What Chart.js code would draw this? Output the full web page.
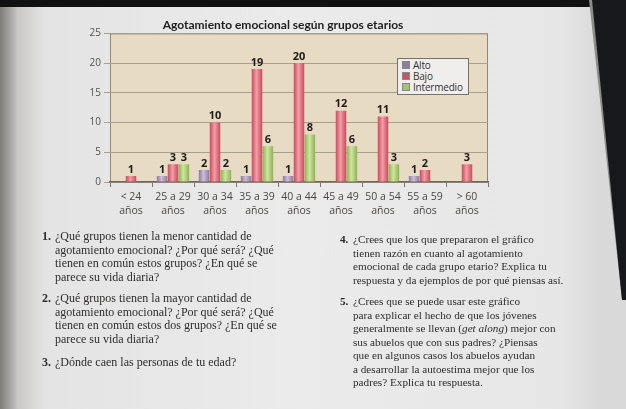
<!DOCTYPE html>
<html lang="es">
<head>
<meta charset="utf-8">
<script src="https://cdn.jsdelivr.net/npm/chart.js@4/dist/chart.umd.min.js"></script>
<style>
  html, body { margin: 0; padding: 0; }
  body {
    width: 626px; height: 409px; overflow: hidden; position: relative;
    background: linear-gradient(to right, #7d7b78 0px, #c9c8c6 18px, #e4e4e4 45px, #ebebec 300px, #e6e6e7 560px, #d9d9da 600px);
    font-family: "Liberation Serif", serif;
  }
  #topStrip { position: absolute; left: 0; top: 0; width: 626px; height: 7px; background: #111; }
  #edge { position: absolute; left: 0; top: 0; width: 626px; height: 409px; background: #16181b;
    clip-path: polygon(592px 0, 626px 0, 626px 300px, 622px 300px); }
  #fold { position: absolute; left: 0; top: 0; width: 626px; height: 409px; background: #8d8c89;
    clip-path: polygon(589px 0, 595px 0, 625px 290px, 622px 300px); }
  #chartBox { position: absolute; left: 0; top: 0; width: 520px; height: 232px; }
  #legend {
    position: absolute; left: 397px; top: 58px; width: 72px; padding: 1px 0 1px 4px;
    background: #efeeec; border: 1px solid #77736c; box-sizing: border-box;
    font: 10px "Open Sans", sans-serif; letter-spacing: -0.2px; color: #333; line-height: 11px;
  }
  #legend span.sw { display: inline-block; width: 6px; height: 6px; margin-right: 3px; border: 1px solid #888; vertical-align: 0; }
  .col { position: absolute; color: #2e2d2c; }
  .col p { margin: 0 0 8px 0; position: relative; padding-left: 13px; }
  .col b { position: absolute; left: 0; top: 0; }
  #colL { left: 42px; top: 230px; font-size: 12px; line-height: 13.5px; width: 270px; }
  #colR { left: 340px; top: 233px; font-size: 11.2px; line-height: 13.5px; width: 250px; }
</style>
</head>
<body>
<div id="topStrip"></div>
<div id="chartBox"><canvas id="mainChart"></canvas></div>
<div id="legend"></div>
<div id="fold"></div>
<div id="edge"></div>

<div class="col" id="colL">
  <p><b>1.</b>¿Qué grupos tienen la menor cantidad de<br>agotamiento emocional? ¿Por qué será? ¿Qué<br>tienen en común estos grupos? ¿En qué se<br>parece su vida diaria?</p>
  <p><b>2.</b>¿Qué grupos tienen la mayor cantidad de<br>agotamiento emocional? ¿Por qué será? ¿Qué<br>tienen en común estos dos grupos? ¿En qué se<br>parece su vida diaria?</p>
  <p style="margin-top:10px"><b>3.</b>¿Dónde caen las personas de tu edad?</p>
</div>
<div class="col" id="colR">
  <p><b>4.</b>¿Crees que los que prepararon el gráfico<br>tienen razón en cuanto al agotamiento<br>emocional de cada grupo etario? Explica tu<br>respuesta y da ejemplos de por qué piensas así.</p>
  <p><b>5.</b>¿Crees que se puede usar este gráfico<br>para explicar el hecho de que los jóvenes<br>generalmente se llevan (<i>get along</i>) mejor con<br>sus abuelos que con sus padres? ¿Piensas<br>que en algunos casos los abuelos ayudan<br>a desarrollar la autoestima mejor que los<br>padres? Explica tu respuesta.</p>
</div>

<script>
// Datos del gráfico
const grupos = [['< 24', 'años'], ['25 a 29', 'años'], ['30 a 34', 'años'], ['35 a 39', 'años'], ['40 a 44', 'años'],
                ['45 a 49', 'años'], ['50 a 54', 'años'], ['55 a 59', 'años'], ['> 60', 'años']];
const alto       = [null, 1, 2, 1, 1, null, null, 1, null];
const bajo       = [1, 3, 10, 19, 20, 12, 11, 2, 3];
const intermedio = [null, 3, 2, 6, 8, 6, 3, null, null];
const yTicks = [0, 5, 10, 15, 20, 25];

// colores tipo "cilindro"
function cylinder(dark, light) {
    return (ctx) => {
        const el = ctx.element;
        if (!el || !isFinite(el.x) || !el.width) return dark;
        const c = ctx.chart.ctx;
        const g = c.createLinearGradient(el.x - el.width / 2, 0, el.x + el.width / 2, 0);
        g.addColorStop(0, dark);
        g.addColorStop(0.45, light);
        g.addColorStop(1, dark);
        return g;
    };
}

// fondo beige del área de trazado
const plotBg = {
    id: 'plotBg',
    beforeDraw(chart) {
        const { ctx, chartArea: a } = chart;
        ctx.save();
        ctx.fillStyle = '#e7dbc3';
        ctx.fillRect(a.left, a.top, a.right - a.left, a.bottom - a.top);
        ctx.strokeStyle = '#8f877a';
        ctx.lineWidth = 1;
        ctx.strokeRect(a.left + 0.5, a.top + 0.5, a.right - a.left - 1, a.bottom - a.top);
        ctx.restore();
    }
};

// etiquetas de valor encima de cada barra
const valueLabels = {
    id: 'valueLabels',
    afterDatasetsDraw(chart) {
        const ctx = chart.ctx;
        ctx.save();
        ctx.font = 'bold 11px "Open Sans", sans-serif';
        ctx.fillStyle = '#1d1b1a';
        ctx.textAlign = 'center';
        ctx.textBaseline = 'bottom';
        chart.data.datasets.forEach((ds, i) => {
            chart.getDatasetMeta(i).data.forEach((bar, j) => {
                const v = ds.data[j];
                if (v === null || v === undefined) return;
                ctx.fillText(v, bar.x, bar.y - 1);
            });
        });
        ctx.restore();
    }
};

const ctx = document.getElementById('mainChart').getContext('2d');
const myChart = new Chart(ctx, {
    type: 'bar',
    data: {
        labels: grupos,
        datasets: [
            { label: 'Alto', data: alto, backgroundColor: cylinder('#8d79a0', '#cdbdd8'), swatch: '#8f7f9b' },
            { label: 'Bajo', data: bajo, backgroundColor: cylinder('#c94a5e', '#f29ea6'), swatch: '#c4566a' },
            { label: 'Intermedio', data: intermedio, backgroundColor: cylinder('#8db256', '#cfe59c'), swatch: '#a5c273' }
        ]
    },
    options: {
        responsive: true, maintainAspectRatio: false, animation: false,
        categoryPercentage: 0.78, barPercentage: 0.96,
        layout: { padding: { left: 78, top: 18, right: 32, bottom: 9 } },
        plugins: {
            legend: { display: false },
            tooltip: { enabled: false },
            title: {
                display: true, text: 'Agotamiento emocional según grupos etarios',
                color: '#1e1e1e', font: { family: 'Lato', size: 12, weight: 'bold' },
                padding: { top: 0, bottom: 1 }
            }
        },
        scales: {
            x: {
                afterFit: s => { s.height = 41; },
                grid: { offset: true, drawOnChartArea: false, tickLength: 5, color: '#7d766b' },
                border: { color: '#6e675c', width: 1.5 },
                ticks: { color: '#4a4844', font: { family: 'Open Sans', size: 10.5, lineHeight: 1.35 }, padding: 3, maxRotation: 0, autoSkip: false }
            },
            y: {
                min: 0, max: 25,
                afterFit: s => { s.width = 32; },
                afterBuildTicks: s => { s.ticks = yTicks.map(v => ({ value: v })); },
                grid: { color: '#a99f8e', drawTicks: true, tickLength: 6 },
                border: { display: false },
                ticks: { color: '#55524d', font: { family: 'Open Sans', size: 10 }, padding: 3 }
            }
        }
    },
    plugins: [plotBg, valueLabels]
});
// segunda pasada para que los degradados usen la posición de cada barra
myChart.update('none');

// leyenda HTML dentro del área de trazado
document.getElementById('legend').innerHTML = myChart.data.datasets.map(ds =>
    `<div><span class="sw" style="background:${ds.swatch}"></span>${ds.label}</div>`
).join('');
</script>
</body>
</html>
